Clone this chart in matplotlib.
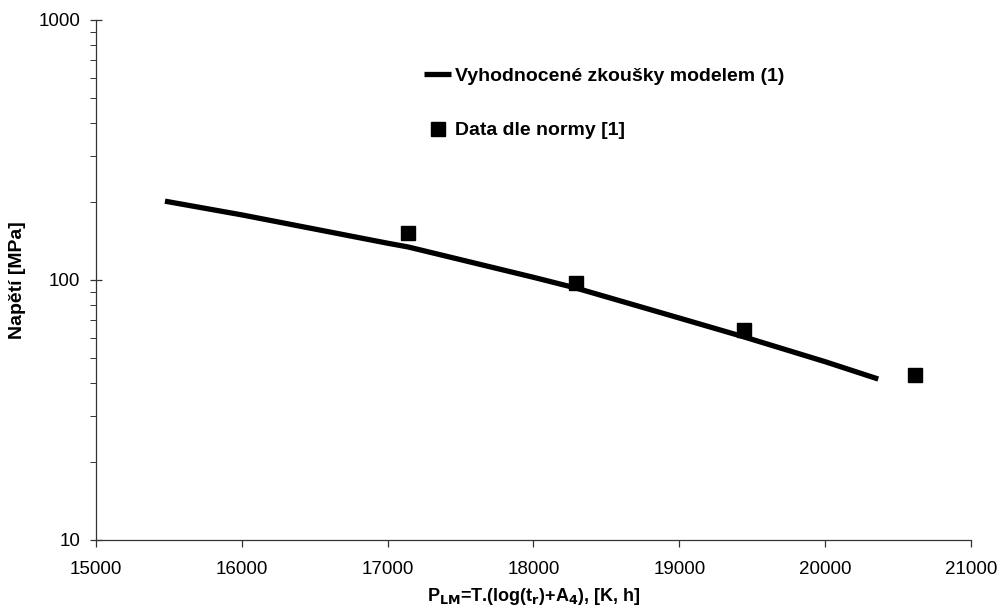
import matplotlib
matplotlib.use("Agg")
import matplotlib.pyplot as plt
from matplotlib.ticker import LogLocator, NullFormatter, FixedLocator

plt.rcParams['font.family'] = ['Liberation Sans', 'DejaVu Sans']

# Model curve
model_x = [15473, 16000, 17000, 17140, 18000, 18292, 19000, 19444, 20000, 20364]
model_y = [201, 178, 138.5, 134, 102.4, 93.1, 71.4, 60.4, 48.5, 41.6]

# Standard data points
data_x = [17140, 18292, 19444, 20617]
data_y = [151.6, 97.4, 64.2, 43.1]

x_ticks = [15000, 16000, 17000, 18000, 19000, 20000, 21000]
y_ticks = [10, 100, 1000]

label_model = "Vyhodnocené zkoušky modelem (1)"
label_data = "Data dle normy [1]"
xlabel = r"P$_{\mathbf{LM}}$=T.(log(t$_{\mathbf{r}}$)+A$_{\mathbf{4}}$), [K, h]"
ylabel = "Napětí [MPa]"

fig = plt.figure(figsize=(10.0, 6.09), dpi=100)
ax = fig.add_axes([0.096, 1 - 540 / 609, 0.875, (540 - 20) / 609])

ax.plot(model_x, model_y, color='black', lw=3.8, solid_capstyle='butt', label=label_model)
ax.plot(data_x, data_y, ls='none', marker='s', ms=9.5, color='black', label=label_data)

ax.set_yscale('log')
ax.set_xlim(15000, 21000)
ax.set_ylim(10, 1000)
ax.xaxis.set_major_locator(FixedLocator(x_ticks))
ax.set_xticklabels([str(v) for v in x_ticks])
ax.yaxis.set_major_locator(FixedLocator(y_ticks))
ax.set_yticklabels([str(v) for v in y_ticks])
ax.yaxis.set_minor_locator(LogLocator(base=10, subs=range(2, 10)))
ax.yaxis.set_minor_formatter(NullFormatter())

for s in ['top', 'right']:
    ax.spines[s].set_visible(False)
for s in ['left', 'bottom']:
    ax.spines[s].set_linewidth(0.9)
    ax.spines[s].set_color('#333333')

ax.tick_params(axis='y', which='major', direction='inout', length=9, width=0.9,
               labelsize=13.5, pad=7, colors='#333333', labelcolor='black')
ax.tick_params(axis='y', which='minor', direction='out', length=4, width=0.7, colors='#333333')
ax.tick_params(axis='x', which='major', direction='out', length=5, width=0.9,
               labelsize=13.5, pad=10, colors='#333333', labelcolor='black')

ax.set_xlabel(xlabel, fontsize=13, fontweight='bold', labelpad=6)
ax.set_ylabel(ylabel, fontsize=14, fontweight='bold', labelpad=9)

leg = ax.legend(loc='upper left', bbox_to_anchor=(0.355, 0.943), frameon=False,
                prop={'weight': 'bold', 'size': 14}, handlelength=1.4,
                handletextpad=0.2, labelspacing=1.9)

fig.savefig('out.png', dpi=100, facecolor='white')
